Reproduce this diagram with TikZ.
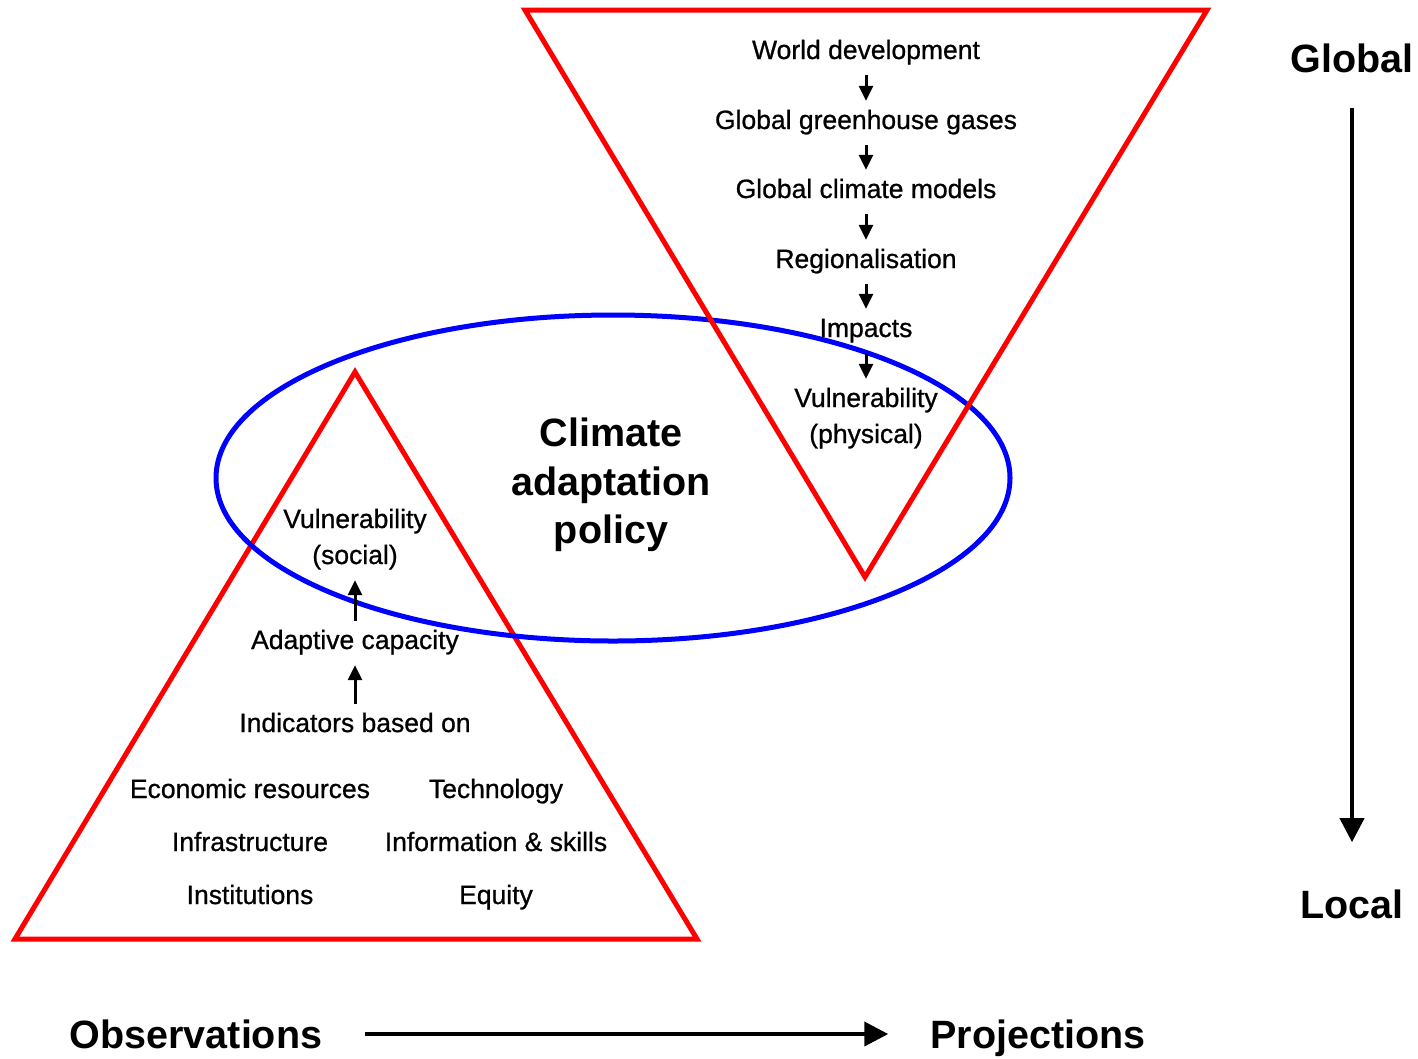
\documentclass[tikz,border=0pt]{standalone}
\usepackage{fontspec}
\setmainfont{Liberation Sans}
\newfontfamily\lblfont[FakeBold=0.8]{Liberation Sans}
\usetikzlibrary{arrows.meta}
\begin{document}
\begin{tikzpicture}[x=1pt,y=-1pt,
  lbl/.style={font=\lblfont\fontsize{26.5}{30}\selectfont, anchor=base, inner xsep=0pt, inner ysep=10pt, text height=18pt, text depth=6pt},
  big/.style={font=\fontsize{39.5}{44}\selectfont\bfseries, anchor=base, inner sep=0pt, text depth=0pt},
  smallarrow/.style={line width=3pt, -{Triangle[width=14pt,length=15pt]}},
  bigarrow/.style={line width=4pt, -{Triangle[width=24pt,length=24pt]}},
  tri/.style={draw=red, line width=5pt, line join=miter},
  ell/.style={draw=blue, line width=5pt}]
\useasboundingbox (0,0) rectangle (1418,1058);
% shapes
\draw[tri] (355,372) -- (697,939) -- (15,939) -- cycle;
\draw[ell] (613,478) ellipse [x radius=397, y radius=163];
\draw[tri] (525,10) -- (1207,10) -- (865,577) -- cycle;
% top chain
\node[lbl] (wd) at (866,59) {World development};
\node[lbl] (ggg) at (866,129) {Global greenhouse gases};
\node[lbl] (gcm) at (866,198) {Global climate models};
\node[lbl] (reg) at (866,268) {Regionalisation};
\node[lbl] (imp) at (866,337) {Impacts};
\node[lbl] (vp) at (866,407) {Vulnerability};
\node[lbl] (vp2) at (866,443) {(physical)};
\draw[smallarrow] (wd.south) -- (ggg.north);
\draw[smallarrow] (ggg.south) -- (gcm.north);
\draw[smallarrow] (gcm.south) -- (reg.north);
\draw[smallarrow] (reg.south) -- (imp.north);
\draw[smallarrow] (imp.south) -- (vp.north);
% left chain
\node[lbl] (vs) at (355,528) {Vulnerability};
\node[lbl] (vs2) at (355,564) {(social)};
\node[lbl] (ac) at (355,649) {Adaptive capacity};
\node[lbl] (ind) at (355,732) {Indicators based on};
\draw[smallarrow] (ac.north) -- (vs2.south);
\draw[smallarrow] (ind.north) -- (ac.south);
\node[lbl] (eco) at (250,798) {Economic resources};
\node[lbl] (tec) at (496,798) {Technology};
\node[lbl] (inf) at (250,851) {Infrastructure};
\node[lbl] (ins) at (496,851) {Information \& skills};
\node[lbl] (ist) at (250,904) {Institutions};
\node[lbl] (equ) at (496,904) {Equity};
% centre title
\node[big] (c1) at (611,446) {Climate};
\node[big] (c2) at (611,495) {adaptation};
\node[big] (c3) at (611,543) {policy};
% scale axes
\node[big] (glob) at (1352,72) {Global};
\node[big] (loc) at (1352,918) {Local};
\draw[bigarrow, shorten <=36pt, shorten >=47pt] (glob.south) -- (loc.north);
\node[big] (obs) at (196,1048) {Observations};
\node[big] (proj) at (1038,1048) {Projections};
\draw[bigarrow, shorten <=43pt, shorten >=42pt] (obs.east |- 0,1034) -- (proj.west |- 0,1034);
\end{tikzpicture}
\end{document}
